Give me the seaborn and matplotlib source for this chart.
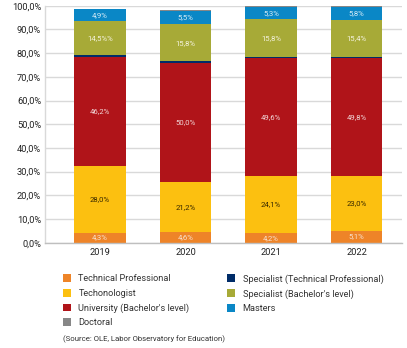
import matplotlib
matplotlib.use("Agg")
import matplotlib.pyplot as plt
import seaborn as sns
import pandas as pd
import numpy as np
from matplotlib.patches import Patch

years = ["2019", "2020", "2021", "2022"]
categories = [
    "Technical Professional",
    "Techonologist",
    "University (Bachelor's level)",
    "Specialist (Technical Professional)",
    "Specialist (Bachelor's level)",
    "Masters",
    "Doctoral",
]
technical_professional = [4.3, 4.6, 4.2, 5.1]
technologist = [28.0, 21.2, 24.1, 23.0]
university = [46.2, 50.0, 49.6, 49.8]
specialist_tp = [0.6, 0.7, 0.5, 0.5]
specialist_bach = [14.5, 15.8, 15.8, 15.4]
masters = [4.9, 5.5, 5.3, 5.8]
doctoral = [0.3, 0.3, 0.3, 0.4]

series = [technical_professional, technologist, university, specialist_tp,
          specialist_bach, masters, doctoral]
colors = ["#EE8428", "#FCC010", "#B01419", "#002C68", "#A7AA37", "#0A87C6", "#878787"]
label_colors = ["#F6E2D0", "#3A2A00", "#F1D6D6", None, "#F4F2DC", "#D7ECF7", None]
label_suffix = {(4, 0): "%%"}

sns.set_theme(style="white")
plt.rcParams["font.family"] = ["Roboto", "DejaVu Sans"]

fig = plt.figure(figsize=(4.07, 3.48), dpi=100)
ax = fig.add_axes([0.111, 0.3026, 0.877, 0.681])

rows = []
for cat, vals in zip(categories, series):
    for y, v in zip(years, vals):
        rows.append({"year": y, "category": cat, "value": v})
df = pd.DataFrame(rows)

ax.set_ylim(0, 100)
ax.set_yticks(np.arange(0, 101, 10))
ax.yaxis.grid(True, color="#D9D9D9", linewidth=1.0)
ax.set_axisbelow(True)

bottom = np.zeros(len(years))
for i, (cat, color) in enumerate(zip(categories, colors)):
    sub = df[df["category"] == cat]
    sns.barplot(data=sub, x="year", y="value", order=years, color=color,
                bottom=bottom.copy(), width=0.6, saturation=1, ax=ax,
                linewidth=0, errorbar=None)
    vals = sub["value"].to_numpy()
    if label_colors[i] is not None:
        for j, v in enumerate(vals):
            txt = f"{v:.1f}".replace(".", ",") + label_suffix.get((i, j), "%")
            ax.text(j, bottom[j] + v / 2, txt, ha="center", va="center",
                    fontsize=5.6, color=label_colors[i])
    bottom += vals

ax.set_xlim(-0.64, 3.53)
ax.set_xlabel("")
ax.set_ylabel("")
ax.set_yticklabels([f"{t:.1f}".replace(".", ",") + "%" for t in np.arange(0, 101, 10)])
ax.tick_params(axis="both", labelsize=6.7, colors="#222222", length=0)
ax.tick_params(axis="x", pad=4)
ax.tick_params(axis="y", pad=3)
for s in ["top", "right"]:
    ax.spines[s].set_visible(False)
ax.spines["left"].set_color("#D9D9D9")
ax.spines["left"].set_linewidth(1.0)
ax.spines["bottom"].set_color("#BFBFBF")
ax.spines["bottom"].set_linewidth(1.0)

handles = [Patch(facecolor=c, edgecolor="none") for c in colors]
order = [0, 1, 2, 6, 3, 4, 5]
fig.legend([handles[k] for k in order], [categories[k] for k in order],
           loc="upper left", bbox_to_anchor=(0.143, 0.226), ncol=2,
           frameon=False, fontsize=6.6, handlelength=0.9, handleheight=0.9,
           handletextpad=0.8, columnspacing=4.1, labelspacing=0.6,
           borderpad=0, labelcolor="#333333")

fig.text(63 / 407, 1 - 339 / 348, "(Source: OLE, Labor Observatory for Education)",
         fontsize=5.6, color="#333333", va="center", ha="left")

fig.savefig("out.png", dpi=100)
